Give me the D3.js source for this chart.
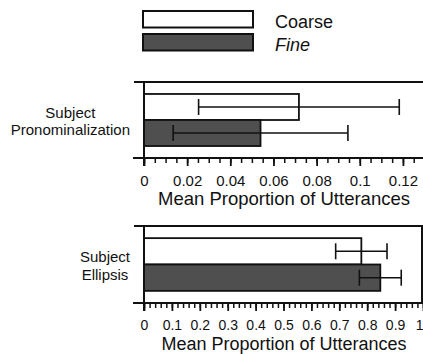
<!DOCTYPE html>
<html>
<head>
<meta charset="utf-8">
<script src="https://cdn.jsdelivr.net/npm/d3@7"></script>
<style>
  html, body { margin: 0; padding: 0; background: #fff; }
  svg { display: block; font-family: "Liberation Sans", Arial, Helvetica, sans-serif; }
</style>
</head>
<body>
<svg id="chart" width="423" height="354"></svg>
<script>
// ---- data ----
const seriesNames = ["Coarse", "Fine"];
const categories = [["Subject", "Pronominalization"], ["Subject", "Ellipsis"]];
const coarseMeans = [0.0718, 0.779];
const coarseErr   = [0.0465, 0.092];
const fineMeans   = [0.054, 0.847];
const fineErr     = [0.0405, 0.075];
const topTickValues = [0, 0.02, 0.04, 0.06, 0.08, 0.10, 0.12];
const topTickLabels = ["0", "0.02", "0.04", "0.06", "0.08", "0.1", "0.12"];
const botTickValues = [0, 0.1, 0.2, 0.3, 0.4, 0.5, 0.6, 0.7, 0.8, 0.9, 1];
const botTickLabels = ["0", "0.1", "0.2", "0.3", "0.4", "0.5", "0.6", "0.7", "0.8", "0.9", "1"];
const axisTitle = "Mean Proportion of Utterances";

// ---- layout ----
const svg = d3.select("#chart");
const colors = { Coarse: "#ffffff", Fine: "#4f4f4f" };
const ink = "#111";
const W = 423;

const panels = [
  { idx: 0, top: 82, bottom: 158, domainMax: 0.1293, minorStep: 0.005, tickFont: 15, tickPad: 9.4,
    ticks: topTickValues, labels: topTickLabels, rightBorder: false, titleBase: 205, titleFont: 18.5 },
  { idx: 1, top: 226, bottom: 303, domainMax: 1.0, minorStep: 0.02, tickFont: 14, tickPad: 8.6,
    ticks: botTickValues, labels: botTickLabels, rightBorder: true, titleBase: 349.5, titleFont: 18 }
];
const x0 = 144, x1 = 423;

// legend
const legend = svg.append("g");
seriesNames.forEach((s, i) => {
  const yTop = [11, 34][i];
  legend.append("rect")
    .attr("x", 143).attr("y", yTop).attr("width", 110).attr("height", 16.5)
    .attr("fill", colors[s]).attr("stroke", ink).attr("stroke-width", 2);
  legend.append("text")
    .attr("x", 275).attr("y", yTop + 17)
    .attr("font-size", 18).attr("fill", ink)
    .attr("font-style", s === "Fine" ? "italic" : "normal")
    .text(s);
});

panels.forEach(p => {
  const g = svg.append("g");
  const x = d3.scaleLinear().domain([0, p.domainMax]).range([x0, x1]);
  const y = d3.scaleBand().domain(seriesNames).range([p.top, p.bottom])
    .paddingInner(0).paddingOuter(0.46);

  const means = { Coarse: coarseMeans[p.idx], Fine: fineMeans[p.idx] };
  const errs = { Coarse: coarseErr[p.idx], Fine: fineErr[p.idx] };

  // frame
  g.append("line").attr("x1", 134).attr("x2", x1).attr("y1", p.top).attr("y2", p.top)
    .attr("stroke", ink).attr("stroke-width", 2);
  if (p.rightBorder) {
    g.append("line").attr("x1", 422).attr("x2", 422).attr("y1", p.top).attr("y2", p.bottom)
      .attr("stroke", ink).attr("stroke-width", 2);
  }

  // bars
  seriesNames.forEach(s => {
    g.append("rect")
      .attr("x", x(0)).attr("y", y(s))
      .attr("width", x(means[s]) - x(0)).attr("height", y.bandwidth())
      .attr("fill", colors[s]).attr("stroke", ink).attr("stroke-width", 1.8);
  });

  // error bars
  seriesNames.forEach(s => {
    const cy = y(s) + y.bandwidth() / 2;
    const lo = x(means[s] - errs[s]), hi = x(means[s] + errs[s]);
    const eg = g.append("g").attr("stroke", ink).attr("stroke-width", 1.6);
    eg.append("line").attr("x1", lo).attr("x2", hi).attr("y1", cy).attr("y2", cy);
    eg.append("line").attr("x1", lo).attr("x2", lo).attr("y1", cy - 8).attr("y2", cy + 8);
    eg.append("line").attr("x1", hi).attr("x2", hi).attr("y1", cy - 8).attr("y2", cy + 8);
  });

  // left axis line
  g.append("line").attr("x1", x0).attr("x2", x0).attr("y1", p.top).attr("y2", p.bottom + 8)
    .attr("stroke", ink).attr("stroke-width", 2);

  // minor ticks
  const minor = d3.range(0, p.domainMax + 1e-9, p.minorStep);
  const minorAxis = d3.axisBottom(x).tickValues(minor).tickSize(5).tickFormat("");
  const ma = g.append("g").attr("transform", `translate(0,${p.bottom})`).call(minorAxis);
  ma.select(".domain").remove();
  ma.selectAll("line").attr("stroke", ink).attr("stroke-width", 1.5);

  // major ticks with labels
  const majorAxis = d3.axisBottom(x).tickValues(p.ticks).tickSize(8).tickPadding(p.tickPad)
    .tickFormat((d, i) => p.labels[i]);
  const mj = g.append("g").attr("transform", `translate(0,${p.bottom})`).call(majorAxis);
  mj.select(".domain").remove();
  mj.selectAll("line").attr("stroke", ink).attr("stroke-width", 1.8);
  mj.selectAll("text").attr("font-size", p.tickFont).attr("fill", ink)
    .attr("font-family", "'Liberation Sans', Arial, Helvetica, sans-serif");
  // keep a label that would run past the right edge inside the picture
  mj.selectAll(".tick").each(function(d) {
    if (x(d) + 4 > W) d3.select(this).select("text").attr("text-anchor", "end").attr("x", W - x(d));
  });

  // axis line
  g.append("line").attr("x1", 133).attr("x2", x1).attr("y1", p.bottom).attr("y2", p.bottom)
    .attr("stroke", ink).attr("stroke-width", 2);

  // axis title
  g.append("text").attr("x", 284).attr("y", p.titleBase)
    .attr("text-anchor", "middle").attr("font-size", p.titleFont).attr("fill", ink)
    .text(axisTitle);

  // category label (block right-aligned at 130, lines centered)
  const lines = categories[p.idx];
  const bandCenter = y("Coarse") + y.bandwidth();
  const lab = g.append("g");
  const texts = lines.map((t, i) => lab.append("text")
    .attr("y", bandCenter + (i - (lines.length - 1) / 2) * 17.5 + 6.5)
    .attr("text-anchor", "middle").attr("font-size", 15).attr("fill", ink)
    .text(t));
  const maxW = d3.max(texts, t => t.node().getComputedTextLength());
  texts.forEach(t => t.attr("x", 130 - maxW / 2));
});
</script>
</body>
</html>
